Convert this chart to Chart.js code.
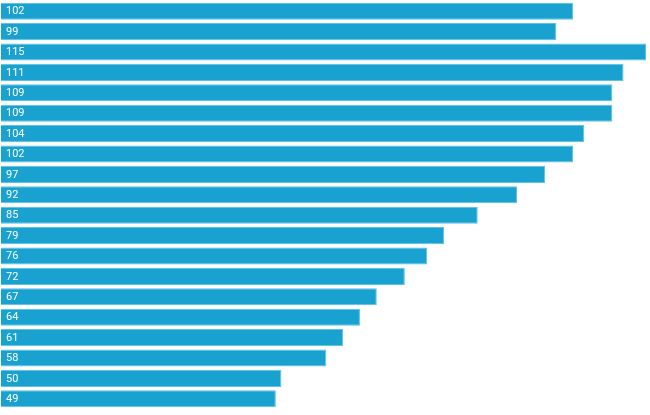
<!DOCTYPE html>
<html>
<head>
<meta charset="utf-8">
<script src="https://cdn.jsdelivr.net/npm/chart.js@4/dist/chart.umd.min.js"></script>
<style>
  html, body { margin: 0; padding: 0; background: #fff; }
  #wrap { width: 650px; height: 415px; }
</style>
</head>
<body>
<div id="wrap"><canvas id="barChart"></canvas></div>
<script>
const categories = ['A1', 'A2', 'A3', 'A4', 'A5', 'A6', 'A7', 'A8', 'A9', 'A10',
  'A11', 'A12', 'A13', 'A14', 'A15', 'A16', 'A17', 'A18', 'A19', 'A20'];
const values = [102, 99, 115, 111, 109, 109, 104, 102, 97, 92,
  85, 79, 76, 72, 67, 64, 61, 58, 50, 49];

// draws the value inside each bar, on the left
const insideLabels = {
  id: 'insideLabels',
  afterDatasetsDraw(chart) {
    const ctx = chart.ctx;
    const meta = chart.getDatasetMeta(0);
    ctx.save();
    ctx.fillStyle = '#ffffff';
    ctx.font = '11px Roboto';
    ctx.textBaseline = 'middle';
    meta.data.forEach((bar, i) => {
      ctx.fillText(String(values[i]), bar.base + 5, bar.y + 0.5);
    });
    ctx.restore();
  }
};

new Chart(document.getElementById('barChart').getContext('2d'), {
  type: 'bar',
  data: {
    labels: categories,
    datasets: [{
      data: values,
      backgroundColor: '#19a1cf',
      borderColor: '#5cc2e8',
      borderWidth: 1,
      barPercentage: 0.9,
      categoryPercentage: 0.93
    }]
  },
  options: {
    indexAxis: 'y',
    responsive: true,
    maintainAspectRatio: false,
    animation: false,
    layout: { padding: { left: 1, right: 4, top: 1, bottom: 6 } },
    plugins: { legend: { display: false }, tooltip: { enabled: false } },
    scales: {
      x: { display: false, min: 0, max: 115 },
      y: { display: false }
    }
  },
  plugins: [insideLabels]
});
</script>
</body>
</html>
